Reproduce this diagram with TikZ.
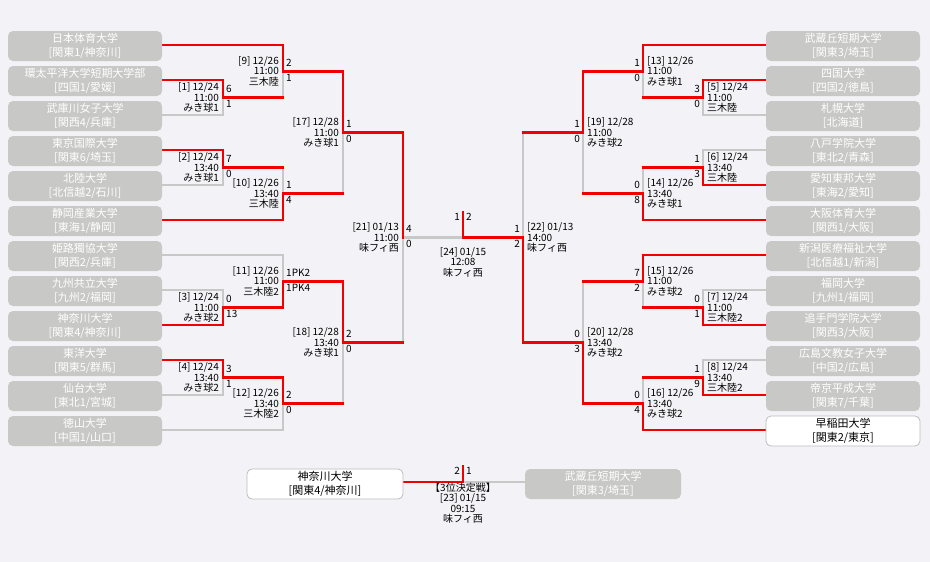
\documentclass[tikz,border=0pt]{standalone}
\usepackage{fontspec}
\setmainfont{Noto Sans CJK JP}
\pgfdeclarelayer{back}
\pgfdeclarelayer{lines}
\pgfsetlayers{back,lines,main}
\definecolor{bgc}{HTML}{F3F2F6}
\definecolor{boxg}{HTML}{C8C9C6}
\definecolor{lgray}{HTML}{C8C8C8}
\definecolor{wred}{HTML}{F00000}
\definecolor{bord}{HTML}{BDBDBD}
\newcommand\mcoord[4]{\coordinate (#1t) at (#2,#3); \coordinate (#1b) at (#2,#4); \coordinate (#1) at (#2,{(#3+#4)/2});}
\newcommand\scoresL[3]{%
  \node[sc, anchor=west] (#1sa) at ([xshift=3pt,yshift=8.5pt]#1) {#2};
  \node[sc, anchor=west] (#1sb) at ([xshift=3pt,yshift=-6.5pt]#1) {#3};}
\newcommand\scoresR[3]{%
  \node[sc, anchor=east] (#1sa) at ([xshift=-3pt,yshift=8.5pt]#1) {#2};
  \node[sc, anchor=east] (#1sb) at ([xshift=-3pt,yshift=-6.5pt]#1) {#3};}
\newcommand\infoL[4]{\node[info, anchor=east, align=right] (#1i) at ([xshift=-4pt]#1) {#2\\#3\\#4};}
\newcommand\infoR[4]{\node[info, anchor=west, align=left] (#1i) at ([xshift=4pt]#1) {#2\\#3\\#4};}
\begin{document}
\begin{tikzpicture}[x=1pt,y=-1pt,
  team/.style={rounded corners=5pt, fill=boxg, text=white, minimum width=154pt, minimum height=30pt,
    inner sep=0pt, align=center, font=\fontsize{11}{14}\selectfont},
  champ/.style={team, fill=white, draw=bord, line width=0.8pt, text=black},
  win/.style={draw=wred, line width=2.6pt, line cap=rect, line join=miter},
  lose/.style={draw=lgray, line width=2.6pt, line cap=rect, line join=miter},
  sc/.style={inner sep=0pt, font=\fontsize{10}{10.5}\selectfont},
  info/.style={inner sep=0pt, font=\fontsize{10}{10.5}\selectfont}]
\begin{pgfonlayer}{back}
\fill[bgc] (0,0) rectangle (930,562);
\end{pgfonlayer}
\useasboundingbox (0,0) rectangle (930,562);
% match coordinates (left)
\mcoord{m1}{223}{80}{115}
\mcoord{m2}{223}{150}{185}
\mcoord{m3}{223}{290}{325}
\mcoord{m4}{223}{360}{395}
\mcoord{m9}{283}{45}{97.5}
\mcoord{m10}{283}{167.5}{220}
\mcoord{m11}{283}{255}{307.5}
\mcoord{m12}{283}{377.5}{430}
\mcoord{m17}{343}{71.25}{193.75}
\mcoord{m18}{343}{281.25}{403.75}
\mcoord{m21}{403}{132.5}{342.5}
% right
\mcoord{m5}{703}{80}{115}
\mcoord{m6}{703}{150}{185}
\mcoord{m7}{703}{290}{325}
\mcoord{m8}{703}{360}{395}
\mcoord{m13}{643}{45}{97.5}
\mcoord{m14}{643}{167.5}{220}
\mcoord{m15}{643}{255}{307.5}
\mcoord{m16}{643}{377.5}{430}
\mcoord{m19}{583}{71.25}{193.75}
\mcoord{m20}{583}{281.25}{403.75}
\mcoord{m22}{523}{132.5}{342.5}
\coordinate (f) at (463,237.5);
\coordinate (champ) at (463,212);
\coordinate (tpc) at (463,482);
\coordinate (tpu) at (463,466);
% left teams
\node[team] (t1) at (85,46) {日本体育大学\\{}[関東1/神奈川]};
\node[team] (t2) at (85,81) {環太平洋大学短期大学部\\{}[四国1/愛媛]};
\node[team] (t3) at (85,116) {武庫川女子大学\\{}[関西4/兵庫]};
\node[team] (t4) at (85,151) {東京国際大学\\{}[関東6/埼玉]};
\node[team] (t5) at (85,186) {北陸大学\\{}[北信越2/石川]};
\node[team] (t6) at (85,221) {静岡産業大学\\{}[東海1/静岡]};
\node[team] (t7) at (85,256) {姫路獨協大学\\{}[関西2/兵庫]};
\node[team] (t8) at (85,291) {九州共立大学\\{}[九州2/福岡]};
\node[team] (t9) at (85,326) {神奈川大学\\{}[関東4/神奈川]};
\node[team] (t10) at (85,361) {東洋大学\\{}[関東5/群馬]};
\node[team] (t11) at (85,396) {仙台大学\\{}[東北1/宮城]};
\node[team] (t12) at (85,431) {徳山大学\\{}[中国1/山口]};
% right teams
\node[team] (t13) at (843,46) {武蔵丘短期大学\\{}[関東3/埼玉]};
\node[team] (t14) at (843,81) {四国大学\\{}[四国2/徳島]};
\node[team] (t15) at (843,116) {札幌大学\\{}[北海道]};
\node[team] (t16) at (843,151) {八戸学院大学\\{}[東北2/青森]};
\node[team] (t17) at (843,186) {愛知東邦大学\\{}[東海2/愛知]};
\node[team] (t18) at (843,221) {大阪体育大学\\{}[関西1/大阪]};
\node[team] (t19) at (843,256) {新潟医療福祉大学\\{}[北信越1/新潟]};
\node[team] (t20) at (843,291) {福岡大学\\{}[九州1/福岡]};
\node[team] (t21) at (843,326) {追手門学院大学\\{}[関西3/大阪]};
\node[team] (t22) at (843,361) {広島文教女子大学\\{}[中国2/広島]};
\node[team] (t23) at (843,396) {帝京平成大学\\{}[関東7/千葉]};
\node[champ] (t24) at (843,431) {早稲田大学\\{}[関東2/東京]};
% third place boxes
\node[champ, minimum width=156pt] (tpl) at (325,484) {神奈川大学\\{}[関東4/神奈川]};
\node[team, minimum width=156pt] (tpr) at (603,484) {武蔵丘短期大学\\{}[関東3/埼玉]};
% lines
\begin{pgfonlayer}{lines}
\draw[lose] (t3.east |- m1b) -- (m1b) -- (m1);
\draw[lose] (m9b) -- (m9);
\draw[lose] (t5.east |- m2b) -- (m2b) -- (m2);
\draw[lose] (m10t) -- (m10);
\draw[lose] (m17b) -- (m17);
\draw[lose] (m21b) -- (m21);
\draw[lose] (t7.east |- m11t) -- (m11t) -- (m11);
\draw[lose] (t8.east |- m3t) -- (m3t) -- (m3);
\draw[lose] (m18b) -- (m18);
\draw[lose] (t11.east |- m4b) -- (m4b) -- (m4);
\draw[lose] (t12.east |- m12b) -- (m12b) -- (m12);
\draw[lose] (m21) -- (f);
\draw[lose] (t15.west |- m5b) -- (m5b) -- (m5);
\draw[lose] (m13b) -- (m13);
\draw[lose] (t16.west |- m6t) -- (m6t) -- (m6);
\draw[lose] (m14t) -- (m14);
\draw[lose] (m19b) -- (m19);
\draw[lose] (m22t) -- (m22);
\draw[lose] (t20.west |- m7t) -- (m7t) -- (m7);
\draw[lose] (m15b) -- (m15);
\draw[lose] (m20t) -- (m20);
\draw[lose] (t22.west |- m8t) -- (m8t) -- (m8);
\draw[lose] (m16t) -- (m16);
\draw[lose] (tpr.west |- tpc) -- (tpc);
% winners
\draw[win] (t2.east |- m1t) -- (m1t) -- (m1) -- (m9b);
\draw[win] (t1.east |- m9t) -- (m9t) -- (m9) -- (m17t);
\draw[win] (t4.east |- m2t) -- (m2t) -- (m2) -- (m10t);
\draw[win] (t6.east |- m10b) -- (m10b) -- (m10) -- (m17b);
\draw[win] (m17t) -- (m17) -- (m21t) -- (m21);
\draw[win] (t9.east |- m3b) -- (m3b) -- (m3) -- (m11b);
\draw[win] (m11b) -- (m11) -- (m18t);
\draw[win] (t10.east |- m4t) -- (m4t) -- (m4) -- (m12t);
\draw[win] (m12t) -- (m12) -- (m18b);
\draw[win] (m18t) -- (m18) -- (m21b);
\draw[win] (t14.west |- m5t) -- (m5t) -- (m5) -- (m13b);
\draw[win] (t13.west |- m13t) -- (m13t) -- (m13) -- (m19t);
\draw[win] (t17.west |- m6b) -- (m6b) -- (m6) -- (m14t);
\draw[win] (t18.west |- m14b) -- (m14b) -- (m14) -- (m19b);
\draw[win] (m19t) -- (m19) -- (m22t);
\draw[win] (t19.west |- m15t) -- (m15t) -- (m15) -- (m20t);
\draw[win] (t21.west |- m7b) -- (m7b) -- (m7) -- (m15b);
\draw[win] (m20b) -- (m20) -- (m22b);
\draw[win] (t23.west |- m8b) -- (m8b) -- (m8) -- (m16t);
\draw[win] (t24.west |- m16b) -- (m16b) -- (m16) -- (m20b);
\draw[win] (m22b) -- (m22) -- (f) -- (champ);
\draw[win] (tpl.east |- tpc) -- (tpc) -- (tpu);
\end{pgfonlayer}
% scores
\scoresL{m1}{6}{1}
\scoresL{m2}{7}{0}
\scoresL{m3}{0}{13}
\scoresL{m4}{3}{1}
\scoresL{m9}{2}{1}
\scoresL{m10}{1}{4}
\scoresL{m11}{1PK2}{1PK4}
\scoresL{m12}{2}{0}
\scoresL{m17}{1}{0}
\scoresL{m18}{2}{0}
\scoresL{m21}{4}{0}
\scoresR{m5}{3}{0}
\scoresR{m6}{1}{3}
\scoresR{m7}{0}{1}
\scoresR{m8}{1}{9}
\scoresR{m13}{1}{0}
\scoresR{m14}{0}{8}
\scoresR{m15}{7}{2}
\scoresR{m16}{0}{4}
\scoresR{m19}{1}{0}
\scoresR{m20}{0}{3}
\scoresR{m22}{1}{2}
% info
\infoL{m1}{[1] 12/24}{11:00}{みき球1}
\infoL{m2}{[2] 12/24}{13:40}{みき球1}
\infoL{m3}{[3] 12/24}{11:00}{みき球2}
\infoL{m4}{[4] 12/24}{13:40}{みき球2}
\infoL{m9}{[9] 12/26}{11:00}{三木陸}
\infoL{m10}{[10] 12/26}{13:40}{三木陸}
\infoL{m11}{[11] 12/26}{11:00}{三木陸2}
\infoL{m12}{[12] 12/26}{13:40}{三木陸2}
\infoL{m17}{[17] 12/28}{11:00}{みき球1}
\infoL{m18}{[18] 12/28}{13:40}{みき球1}
\infoL{m21}{[21] 01/13}{11:00}{味フィ西}
\infoR{m5}{[5] 12/24}{11:00}{三木陸}
\infoR{m6}{[6] 12/24}{13:40}{三木陸}
\infoR{m7}{[7] 12/24}{11:00}{三木陸2}
\infoR{m8}{[8] 12/24}{13:40}{三木陸2}
\infoR{m13}{[13] 12/26}{11:00}{みき球1}
\infoR{m14}{[14] 12/26}{13:40}{みき球1}
\infoR{m15}{[15] 12/26}{11:00}{みき球2}
\infoR{m16}{[16] 12/26}{13:40}{みき球2}
\infoR{m19}{[19] 12/28}{11:00}{みき球2}
\infoR{m20}{[20] 12/28}{13:40}{みき球2}
\infoR{m22}{[22] 01/13}{14:00}{味フィ西}
% final
\node[sc, anchor=east] (fsa) at (460,217) {1};
\node[sc, anchor=west] (fsb) at (466,217) {2};
\node[info, align=center] (fi) at (463,262) {[24] 01/15\\12:08\\味フィ西};
% third place
\node[sc, anchor=east] (tsa) at (460,471) {2};
\node[sc, anchor=west] (tsb) at (466,471) {1};
\node[info, align=center] (ti) at (463,503) {【3位決定戦】\\{}[23] 01/15\\09:15\\味フィ西};
\end{tikzpicture}
\end{document}
